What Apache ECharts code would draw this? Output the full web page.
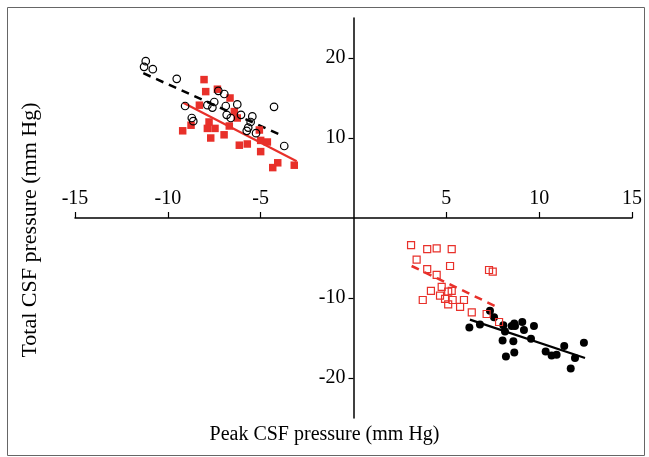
<!DOCTYPE html>
<html>
<head>
<meta charset="utf-8">
<script src="https://cdn.jsdelivr.net/npm/echarts@6/dist/echarts.min.js"></script>
<style>html,body{margin:0;padding:0;background:#fff}#c{width:649px;height:457px}</style>
</head>
<body>
<div id="c"></div>
<script>
// Upper-left: open black circles (dashed black fit)
var openCircles = [
  [-11.19,19.6],[-11.28,18.9],[-10.81,18.6],[-9.52,17.4],[-7.28,15.9],[-6.96,15.5],
  [-9.07,14.0],[-7.50,14.5],[-7.87,14.1],[-7.60,13.8],[-6.88,14.0],[-6.26,14.2],
  [-6.83,12.9],[-6.61,12.5],[-6.06,12.9],[-5.45,12.7],[-5.54,12.0],[-5.67,11.3],
  [-5.75,10.9],[-5.25,10.6],[-8.71,12.5],[-8.63,12.1],[-4.28,13.9],[-3.73,9.0]
];
// Upper-left: filled red squares (solid red fit)
var filledSquares = [
  [-8.05,17.3],[-7.96,15.8],[-7.33,16.1],[-6.65,15.0],[-8.30,14.1],[-6.42,13.3],
  [-6.26,12.5],[-9.20,10.9],[-8.75,11.6],[-7.78,12.0],[-7.87,11.2],[-7.46,11.2],
  [-7.69,10.0],[-6.97,10.4],[-6.69,11.5],[-6.15,9.1],[-5.72,9.25],[-5.07,11.0],
  [-5.00,9.7],[-4.64,9.5],[-5.00,8.3],[-4.08,6.9],[-4.35,6.3],[-3.19,6.6]
];
// Lower-right: open red squares (dashed red fit)
var openSquares = [
  [3.10,-3.4],[3.97,-3.9],[4.48,-3.8],[5.29,-3.9],[3.40,-5.2],[3.97,-6.4],
  [5.20,-6.0],[4.48,-7.1],[7.30,-6.5],[7.50,-6.7],[4.75,-8.6],[4.17,-9.1],
  [5.10,-9.2],[5.29,-9.1],[4.66,-9.7],[3.73,-10.25],[4.93,-10.1],[5.34,-10.25],
  [5.95,-10.25],[5.10,-10.8],[5.74,-11.1],[6.37,-11.8],[7.17,-12.0],[7.84,-13.0]
];
// Lower-right: filled black circles (solid black fit)
var filledCircles = [
  [7.35,-11.6],[7.57,-12.4],[6.24,-13.7],[6.81,-13.3],[8.07,-13.4],[8.16,-14.2],
  [8.52,-13.5],[8.66,-13.2],[8.70,-13.5],[9.09,-13.0],[9.18,-14.0],[9.72,-13.5],
  [8.03,-15.3],[8.61,-15.4],[9.56,-15.1],[8.21,-17.3],[8.66,-16.8],[10.35,-16.7],
  [10.67,-17.2],[10.94,-17.1],[11.35,-16.0],[11.93,-17.5],[12.41,-15.6],[11.70,-18.8]
];
// Fit line endpoints
var fitOpenCircles = [[-11.32,18.1],[-4.05,10.5]];
var fitFilledSquares = [[-9.17,14.4],[-3.06,7.1]];
var fitOpenSquares = [[3.13,-6.0],[7.89,-11.3]];
var fitFilledCircles = [[6.27,-12.7],[12.47,-17.5]];

var xTicks = [-15,-10,-5,5,10,15];
var yTicks = [-20,-10,10,20];
var xTitle = 'Peak CSF pressure (mm Hg)';
var yTitle = 'Total CSF pressure (mm Hg)';

var RED = '#e8302a';
var FONT = '"Liberation Serif","DejaVu Serif",serif';
var GL = 75, GR = 17, GT = 18, GB = 39, W = 649, H = 457;
var gw = W - GL - GR, gh = H - GT - GB;

var chart = echarts.init(document.getElementById('c'), null, {renderer:'canvas'});
chart.setOption({
  animation:false,
  backgroundColor:'#fff',
  grid:{left:GL,right:GR,top:GT,bottom:GB,containLabel:false},
  xAxis:{
    type:'value', min:-15, max:15, interval:5, position:'bottom', offset:-gh/2,
    splitLine:{show:false},
    axisLine:{show:true,onZero:false,lineStyle:{color:'#000',width:1.5}},
    axisTick:{show:true,inside:true,length:6,customValues:xTicks,lineStyle:{color:'#000',width:1.2}},
    axisLabel:{show:true,inside:true,margin:9,customValues:xTicks,color:'#000',fontFamily:FONT,fontSize:20}
  },
  yAxis:{
    type:'value', min:-25, max:25, interval:5, position:'left', offset:-gw/2,
    splitLine:{show:false},
    axisLine:{show:true,onZero:false,lineStyle:{color:'#000',width:1.5}},
    axisTick:{show:true,inside:false,length:5,customValues:yTicks,lineStyle:{color:'#000',width:1.2}},
    axisLabel:{show:true,margin:8,customValues:yTicks,color:'#000',fontFamily:FONT,fontSize:20}
  },
  series:[
    {type:'line',data:fitOpenCircles,symbol:'none',lineStyle:{color:'#000',width:2.5,type:[8,6]},z:2},
    {type:'line',data:fitFilledSquares,symbol:'none',lineStyle:{color:RED,width:2.2},z:2},
    {type:'line',data:fitOpenSquares,symbol:'none',lineStyle:{color:RED,width:2.5,type:[8,6]},z:2},
    {type:'line',data:fitFilledCircles,symbol:'none',lineStyle:{color:'#000',width:2.2},z:2},
    {type:'scatter',data:filledSquares,symbol:'rect',symbolSize:7.5,itemStyle:{color:RED,opacity:1},z:3},
    {type:'scatter',data:openCircles,symbol:'circle',symbolSize:7.5,itemStyle:{color:'rgba(255,255,255,0)',borderColor:'#000',borderWidth:1.2,opacity:1},z:4},
    {type:'scatter',data:openSquares,symbol:'rect',symbolSize:7,itemStyle:{color:'rgba(255,255,255,0)',borderColor:RED,borderWidth:1.2,opacity:1},z:4},
    {type:'scatter',data:filledCircles,symbol:'circle',symbolSize:8,itemStyle:{color:'#000',opacity:1},z:3}
  ],
  graphic:[
    {type:'rect',shape:{x:7.5,y:7.5,width:637,height:448},style:{fill:'none',stroke:'#666',lineWidth:1},silent:true},
    {type:'text',left:'center',top:425,style:{text:xTitle,font:'20px '+FONT,fill:'#000'}},
    {type:'text',x:30,y:230,rotation:Math.PI/2,style:{text:yTitle,font:'22px '+FONT,fill:'#000',align:'center',verticalAlign:'middle'}}
  ]
});
</script>
</body>
</html>
